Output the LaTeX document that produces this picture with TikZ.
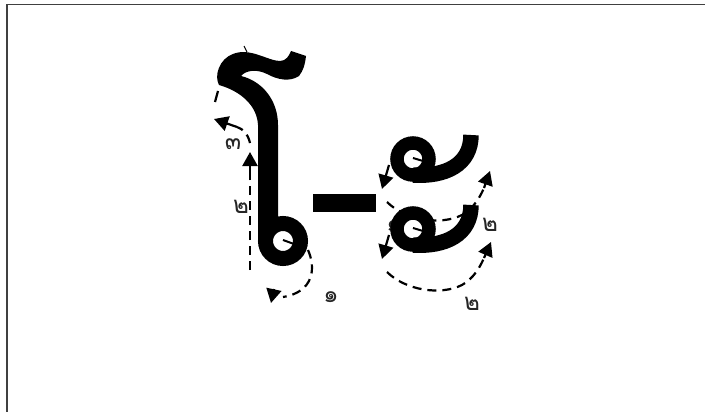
\documentclass[tikz,border=0pt]{standalone}
\usepackage{fontspec}
\newfontfamily\thaifont[Script=Thai]{Loma}
\usetikzlibrary{arrows.meta}
\begin{document}
\begin{tikzpicture}[x=1pt,y=-1pt,
  dsh/.style={line width=2.2pt, dash pattern=on 9pt off 6pt},
  tipline/.style={line width=2.2pt, -{Triangle[length=14pt,width=15pt]}},
  tick/.style={line width=2pt},
  lbl/.style={font=\thaifont\fontsize{24}{24}\selectfont, inner sep=0pt, text=black!85}]
\useasboundingbox (0,0) rectangle (705,412);
\draw[line width=1.5pt, black!75] (7,440) -- (7,4.5) -- (720,4.5);

% labels
\node[lbl] (l3) at (233,144) {๓};
\node[lbl] (l2a) at (241,207) {๒};
\node[lbl] (l1a) at (331,297) {๑};
\node[lbl] (l1b) at (394,226) {๑};
\node[lbl] (l2b) at (490,225) {๒};
\node[lbl] (l2c) at (472,304) {๒};

% glyph O (sara o)
\fill (258,241) -- (258,125) .. controls (257,105) and (240,91) .. (219,85)
 .. controls (214,76) and (219,59) .. (233,54)
 .. controls (250,47) and (268,61) .. (280,61)
 .. controls (286,61) and (289,56) .. (291,51)
 -- (306,56)
 .. controls (305,65) and (303,71) .. (299,76)
 .. controls (290,82) and (278,80) .. (267,74)
 .. controls (257,69) and (246,70) .. (241,76)
 .. controls (262,81) and (278,100) .. (278,125)
 -- (278,230) -- (268,241) -- cycle;
\draw[line width=15pt] (283,241) circle[radius=17.5];
\draw[tick] (283,240) -- (294,244);
\draw[line width=1pt] (244,46) -- (247,52);

% dash
\fill (313,194) rectangle (376,212);

% glyph A (sara a), two parts
\foreach \dy in {0,70}{
  \draw[line width=13.5pt] (413,159+\dy) circle[radius=16];
  \draw[line width=15.5pt] (413,175+\dy) .. controls (445,177+\dy) and (471,165+\dy) .. (471,135+\dy);
  \draw[tick] (413,158+\dy) -- (423,161+\dy);
}

% arrows for O
\draw[dsh] (308,250) .. controls (316,268) and (314,292) .. (283,297);
\draw[tipline] (274,289) -- (271,303);
\draw[dsh] (250,270) -- (250,175);
\draw[tipline] (250,180) -- (250,152);
\draw[dsh] (250,143) .. controls (248,134) and (243,129) .. (237,127);
\draw[tipline] (237,127) -- (214,119);
\draw[line width=2.2pt] (218,91) -- (215,102);

% arrows for A
\draw[tipline] (389,165) -- (382,189);
\draw[dsh] (387,202) .. controls (405,220) and (440,226) .. (462,215) .. controls (474,208) and (480,197) .. (484,188);
\draw[tipline] (484,188) -- (490,171);
\draw[tipline] (389,235) -- (382,259);
\draw[dsh] (387,272) .. controls (405,290) and (440,296) .. (462,285) .. controls (474,278) and (480,267) .. (484,258);
\draw[tipline] (484,258) -- (491,242);
\end{tikzpicture}
\end{document}
